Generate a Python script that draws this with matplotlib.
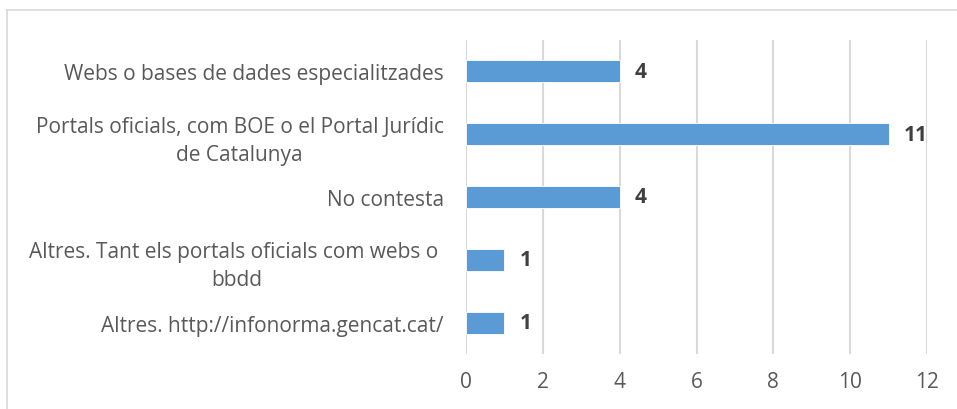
import matplotlib
matplotlib.use("Agg")
import matplotlib.pyplot as plt
from matplotlib.lines import Line2D

categories = [
    "Webs o bases de dades especialitzades",
    "Portals oficials, com BOE o el Portal Jurídic\nde Catalunya",
    "No contesta",
    "Altres. Tant els portals oficials com webs o \nbbdd",
    "Altres. http://infonorma.gencat.cat/",
]
values = [4, 11, 4, 1, 1]
xticks = [0, 2, 4, 6, 8, 10, 12]

plt.rcParams['font.family'] = ['Open Sans', 'DejaVu Sans']

fig = plt.figure(figsize=(9.57, 4.10), dpi=100)
ax = fig.add_axes([466/957, 55/410, (927-466)/957, (355-41)/410])

ypos = list(range(len(categories)))
ax.barh(ypos, values, height=0.35, color='#5B9BD5', edgecolor='white', linewidth=0.6, zorder=3)
for y, v in zip(ypos, values):
    ax.text(v + 0.4, y, str(v), va='center', ha='left', fontsize=15,
            fontweight='bold', color='#404040', zorder=4)

ax.set_ylim(len(categories) - 0.5, -0.5)
ax.set_xlim(0, 12)
ax.set_xticks(xticks)
ax.set_xticklabels([str(t) for t in xticks])
ax.set_yticks(ypos)
ax.set_yticklabels(categories, multialignment='center', linespacing=1.45)
ax.tick_params(axis='both', length=0, labelsize=15, labelcolor='#595959')
ax.tick_params(axis='y', pad=16)
ax.tick_params(axis='x', pad=12)
ax.grid(axis='x', color='#D9D9D9', linewidth=1.5, zorder=0)
for s in ax.spines.values():
    s.set_visible(False)

# outer chart border (partially visible)
fig.add_artist(Line2D([7.5/957, 7.5/957], [0, 1 - 11/410], transform=fig.transFigure,
                      color='#D9D9D9', linewidth=1.2))
fig.add_artist(Line2D([7.5/957, 1], [1 - 11/410, 1 - 11/410], transform=fig.transFigure,
                      color='#D9D9D9', linewidth=1.2))

fig.savefig("out.png", dpi=100)
